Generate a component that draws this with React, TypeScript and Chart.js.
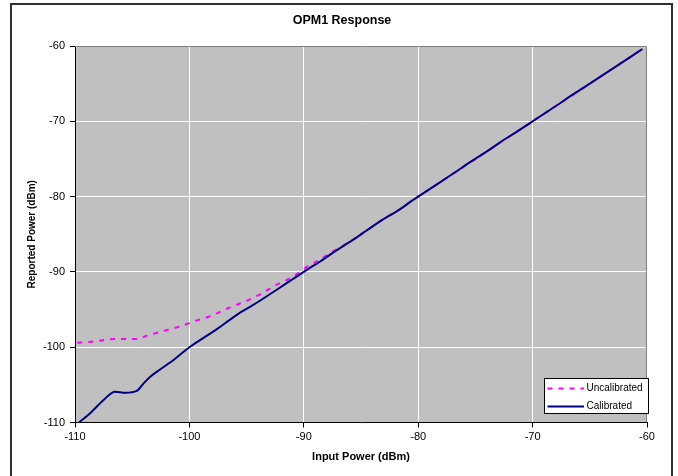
import React, { useEffect, useRef } from "react";
import { Chart, registerables } from "chart.js";

Chart.register(...registerables);

const chartTitle = "OPM1 Response";
const xAxisTitle = "Input Power (dBm)";
const yAxisTitle = "Reported Power (dBm)";
const seriesNames = ["Uncalibrated", "Calibrated"];

const axisMin = -110;
const axisMax = -60;
const axisStep = 10;

const uncalInput = [
  -109.8, -108.7, -107.7, -106.6, -105.6, -104.6, -103.6, -102.6, -101.7, -100.7,
  -99.7, -98.6, -97.6, -96.6, -95.6, -94.5, -93.5, -92.5, -91.5, -90.5,
  -89.7, -88.6, -87.6, -86.6, -85.6, -84.6, -83.6, -82.6, -81.6, -80.6,
  -79.6, -78.6, -77.6, -76.6, -75.6, -74.6, -73.6, -72.6, -71.6, -70.6,
  -69.6, -68.6, -67.6, -66.6, -65.6, -64.6, -63.6, -62.6, -61.6, -60.4,
];
const uncalReported = [
  -99.4, -99.3, -99.1, -98.9, -98.9, -98.9, -98.4, -98.0, -97.6, -97.2,
  -96.6, -96.1, -95.5, -94.8, -94.2, -93.5, -92.7, -91.8, -91.1, -90.2,
  -89.3, -88.4, -87.4, -86.6, -85.6, -84.6, -83.55, -82.6, -81.65, -80.6,
  -79.6, -78.6, -77.6, -76.6, -75.6, -74.6, -73.6, -72.6, -71.6, -70.6,
  -69.6, -68.6, -67.6, -66.6, -65.6, -64.6, -63.6, -62.6, -61.6, -60.4,
];

const calInput = [
  -109.65, -108.7, -107.5, -106.5, -105.6, -104.6, -104.0, -103.4, -102.6, -101.3,
  -100.0, -98.8, -97.6, -96.5, -95.6, -94.6, -93.6, -92.6, -91.6, -90.6,
  -89.6, -88.6, -87.6, -86.6, -85.6, -84.6, -83.6, -82.6, -81.6, -80.6,
  -79.6, -78.6, -77.6, -76.6, -75.6, -74.6, -73.6, -72.6, -71.6, -70.6,
  -69.6, -68.6, -67.6, -66.6, -65.6, -64.6, -63.6, -62.6, -61.6, -60.4,
];
const calReported = [
  -110.0, -108.8, -107.0, -105.9, -106.05, -105.8, -104.8, -103.9, -103.0, -101.6,
  -100.0, -98.8, -97.6, -96.4, -95.45, -94.55, -93.6, -92.6, -91.6, -90.6,
  -89.6, -88.65, -87.6, -86.6, -85.65, -84.6, -83.55, -82.6, -81.7, -80.6,
  -79.6, -78.6, -77.6, -76.6, -75.55, -74.6, -73.6, -72.55, -71.6, -70.6,
  -69.6, -68.6, -67.6, -66.55, -65.6, -64.6, -63.6, -62.6, -61.6, -60.4,
];

const FONT = "'Liberation Sans', Arial, sans-serif";
const MAGENTA = "#ff00ff";
const NAVY = "#000080";

export default function App() {
  const canvasRef = useRef<HTMLCanvasElement | null>(null);

  useEffect(() => {
    const canvas = canvasRef.current;
    if (!canvas) return;

    const plotDecor = {
      id: "plotDecor",
      beforeDraw(chart: any) {
        const { ctx, chartArea: a } = chart;
        ctx.save();
        ctx.fillStyle = "#c0c0c0";
        ctx.fillRect(a.left, a.top, a.right - a.left, a.bottom - a.top);
        ctx.restore();
      },
      afterDraw(chart: any) {
        const { ctx, chartArea: a } = chart;
        ctx.save();
        ctx.strokeStyle = "#808080";
        ctx.lineWidth = 1;
        ctx.beginPath();
        ctx.moveTo(a.left, a.top + 0.5);
        ctx.lineTo(a.right - 0.5, a.top + 0.5);
        ctx.lineTo(a.right - 0.5, a.bottom);
        ctx.stroke();

        // legend
        const w = 105;
        const h = 36;
        const right = a.right + 2;
        const bottom = a.bottom - 8.5;
        const left = right - w;
        const top = bottom - h;
        ctx.fillStyle = "#ffffff";
        ctx.fillRect(left, top, w, h);
        ctx.strokeStyle = "#000000";
        ctx.lineWidth = 1;
        ctx.strokeRect(left + 0.5, top + 0.5, w - 1, h - 1);

        const rows = [
          { name: seriesNames[0], color: MAGENTA, dash: [5, 6] },
          { name: seriesNames[1], color: NAVY, dash: [] as number[] },
        ];
        rows.forEach((r, i) => {
          const y = top + 10.5 + i * 18;
          ctx.strokeStyle = r.color;
          ctx.lineWidth = 2;
          ctx.setLineDash(r.dash);
          ctx.beginPath();
          ctx.moveTo(left + 3.5, y);
          ctx.lineTo(left + 40, y);
          ctx.stroke();
          ctx.setLineDash([]);
          ctx.fillStyle = "#000000";
          ctx.font = `10px ${FONT}`;
          ctx.textBaseline = "middle";
          ctx.textAlign = "left";
          ctx.fillText(r.name, left + 42.5, y);
        });
        ctx.restore();
      },
    };

    const chart = new Chart(canvas, {
      type: "line",
      data: {
        datasets: [
          {
            label: seriesNames[0],
            data: uncalInput.map((x, i) => ({ x, y: uncalReported[i] })),
            borderColor: MAGENTA,
            backgroundColor: MAGENTA,
            borderWidth: 2,
            borderDash: [5, 6],
            pointRadius: 0,
            cubicInterpolationMode: "monotone",
            order: 1,
            xAxisID: "x",
            yAxisID: "y",
          },
          {
            label: seriesNames[1],
            data: calInput.map((x, i) => ({ x, y: calReported[i] })),
            borderColor: NAVY,
            backgroundColor: NAVY,
            borderWidth: 2,
            pointRadius: 0,
            cubicInterpolationMode: "monotone",
            order: 0,
            xAxisID: "x",
            yAxisID: "y",
          },
        ],
      },
      options: {
        animation: false,
        responsive: false,
        devicePixelRatio: 1,
        layout: { padding: 0 },
        plugins: {
          legend: { display: false },
          tooltip: { enabled: false },
          title: {
            display: true,
            text: chartTitle,
            color: "#000000",
            font: { family: FONT, size: 12.5, weight: "bold" },
            padding: { top: 13.5, bottom: 17.5 },
          },
        },
        scales: {
          x: {
            type: "linear",
            position: "bottom",
            min: axisMin,
            max: axisMax,
            afterFit: (s: any) => {
              s.height = 53.5;
            },
            ticks: {
              stepSize: axisStep,
              color: "#000000",
              font: { family: FONT, size: 11 },
              padding: 3,
              maxRotation: 0,
            },
            grid: {
              color: "#ffffff",
              lineWidth: 1,
              tickColor: "#000000",
              tickLength: 5,
            },
            border: { color: "#000000", width: 1 },
            title: {
              display: true,
              text: xAxisTitle,
              color: "#000000",
              font: { family: FONT, size: 11, weight: "bold" },
              padding: { top: 0, bottom: 12.7 },
            },
          },
          y: {
            type: "linear",
            position: "left",
            min: axisMin,
            max: axisMax,
            afterFit: (s: any) => {
              s.width = 63;
            },
            ticks: {
              stepSize: axisStep,
              color: "#000000",
              font: { family: FONT, size: 11 },
              padding: 5,
            },
            grid: {
              color: "#ffffff",
              lineWidth: 1,
              tickColor: "#000000",
              tickLength: 5,
            },
            border: { color: "#000000", width: 1 },
            title: {
              display: true,
              text: yAxisTitle,
              color: "#000000",
              font: { family: FONT, size: 10, weight: "bold" },
              padding: { top: 14.3, bottom: 0 },
            },
          },
          pad: {
            type: "linear",
            position: "right",
            axis: "y",
            display: true,
            afterFit: (s: any) => {
              s.width = 25;
            },
            ticks: { display: false },
            grid: { display: false, drawTicks: false },
            border: { display: false },
          },
        },
      } as any,
      plugins: [plotDecor],
    });

    return () => chart.destroy();
  }, []);

  return (
    <div
      style={{
        position: "fixed",
        left: 0,
        top: 0,
        width: 678,
        height: 476,
        overflow: "hidden",
        background: "#ffffff",
      }}
    >
      <div
        style={{
          position: "absolute",
          left: 10,
          top: 3,
          width: 663,
          height: 500,
          border: "2px solid #303030",
          boxSizing: "border-box",
        }}
      />
      <canvas
        ref={canvasRef}
        width={660}
        height={476}
        style={{ position: "absolute", left: 12, top: 0, width: 660, height: 476 }}
      />
    </div>
  );
}
